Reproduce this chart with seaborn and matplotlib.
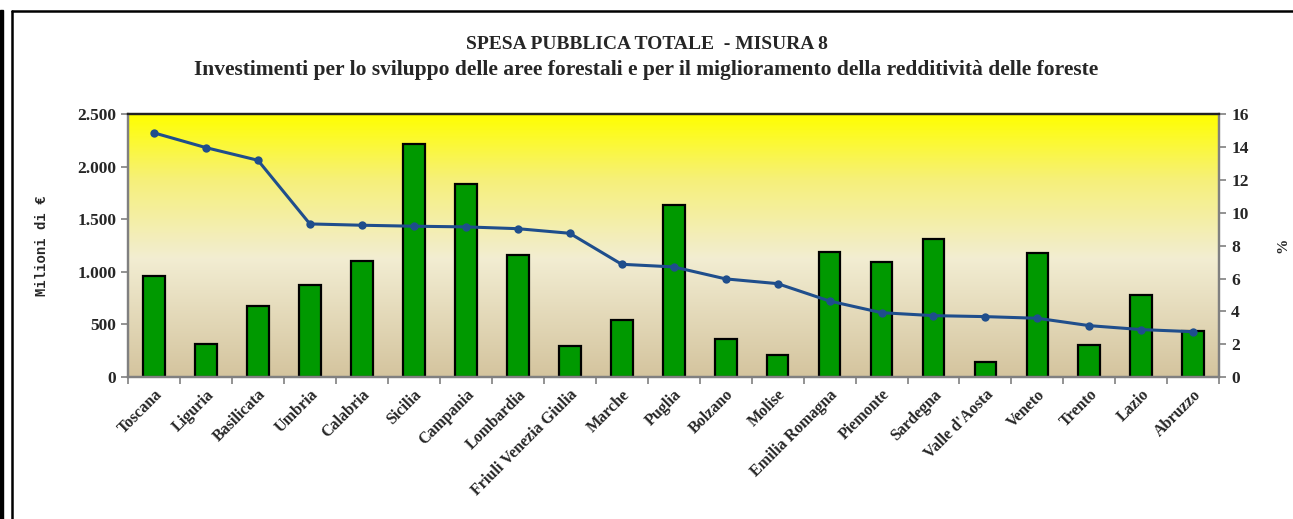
import numpy as np
import pandas as pd
import seaborn as sns
import matplotlib.pyplot as plt
from matplotlib.colors import LinearSegmentedColormap
from matplotlib.ticker import FuncFormatter, MultipleLocator

regioni = ["Toscana", "Liguria", "Basilicata", "Umbria", "Calabria", "Sicilia",
           "Campania", "Lombardia", "Friuli Venezia Giulia", "Marche", "Puglia",
           "Bolzano", "Molise", "Emilia Romagna", "Piemonte", "Sardegna",
           "Valle d'Aosta", "Veneto", "Trento", "Lazio", "Abruzzo"]
spesa = [965, 317, 679, 879, 1108, 2216, 1838, 1159, 298, 540, 1638,
         365, 212, 1190, 1095, 1311, 140, 1184, 302, 781, 435]
percentuale = [14.88, 13.98, 13.21, 9.33, 9.25, 9.19, 9.15, 9.04, 8.76, 6.87, 6.71,
               5.98, 5.69, 4.63, 3.92, 3.74, 3.68, 3.58, 3.13, 2.89, 2.76]

df = pd.DataFrame({"Regione": regioni, "Spesa": spesa, "Perc": percentuale})

sns.set_style("white")
plt.rcParams["font.family"] = ["Liberation Serif", "DejaVu Serif"]

fig = plt.figure(figsize=(12.93, 5.19), dpi=100)
ax = fig.add_axes([0.099, 0.2736, 0.844, 0.5058])

# gradient background yellow -> cream -> tan
cmap = LinearSegmentedColormap.from_list(
    "bg", [(0.0, "#d4c49e"), (0.45, "#f2edd2"), (0.75, "#f6f07a"), (1.0, "#ffff00")])
grad = np.linspace(0, 1, 256).reshape(-1, 1)
ax.imshow(grad, aspect="auto", cmap=cmap, origin="lower",
          extent=(-0.5, len(regioni) - 0.5, 0, 2500), zorder=0)

sns.barplot(data=df, x="Regione", y="Spesa", color="#009900", saturation=1,
            edgecolor="black", linewidth=1.6, width=0.42, ax=ax, zorder=2)
ax.set_xlim(-0.5, len(regioni) - 0.5)
ax.set_ylim(0, 2500)
ax.yaxis.set_major_locator(MultipleLocator(500))
ax.yaxis.set_major_formatter(FuncFormatter(lambda v, p: f"{int(v):,}".replace(",", ".")))
ax.set_xlabel("")
ax.set_ylabel("Milioni di €", family=["Liberation Mono", "DejaVu Sans Mono"],
              fontweight="bold", fontsize=10, labelpad=20)

ax2 = ax.twinx()
sns.lineplot(x=np.arange(len(regioni)), y=percentuale, ax=ax2, color="#1f4e8c",
             linewidth=2.2, marker="o", markersize=6, markeredgewidth=0, zorder=3)
ax2.set_ylim(0, 16)
ax2.yaxis.set_major_locator(MultipleLocator(2))
ax2.set_ylabel("")

# category boundary ticks
ax.set_xticks(np.arange(len(regioni)))
ax.set_xticklabels(regioni, rotation=45, ha="right", rotation_mode="anchor",
                   fontweight="bold", fontsize=11.5)
ax.set_xticks(np.arange(-0.5, len(regioni)), minor=True)
ax.tick_params(axis="x", which="major", length=0, pad=7)
ax.tick_params(axis="x", which="minor", length=5, width=1.2, color="#808080",
               direction="out", bottom=True)
ax.tick_params(axis="y", length=5, width=1.2, color="#808080", direction="out",
               left=True, labelsize=12.5)
ax2.tick_params(axis="y", length=5, width=1.2, color="#808080", direction="out",
                right=True, labelsize=12.5)
for t in ax.get_yticklabels() + ax2.get_yticklabels():
    t.set_fontweight("bold")

for a in (ax, ax2):
    for side in ["left", "right", "bottom"]:
        a.spines[side].set_color("#808080")
        a.spines[side].set_linewidth(1.6)
    a.spines["top"].set_color("#222222")
    a.spines["top"].set_linewidth(1.6)

fig.text(0.5, 0.915, "SPESA PUBBLICA TOTALE  - MISURA 8", ha="center", va="center",
         fontweight="bold", fontsize=14)
fig.text(0.5, 0.865, "Investimenti per lo sviluppo delle aree forestali e per il "
         "miglioramento della redditività delle foreste", ha="center", va="center",
         fontweight="bold", fontsize=15.5)
# right axis label
fig.text(1283 / 1293, 1 - 245 / 519, "%", rotation=90, ha="center", va="center",
         fontweight="bold", fontsize=11)

# outer chart frame
fig.add_artist(plt.Line2D([12 / 1293, 12 / 1293], [0, 1 - 11 / 519],
                          transform=fig.transFigure, color="black", lw=1.8))
fig.add_artist(plt.Line2D([12 / 1293, 1], [1 - 11 / 519, 1 - 11 / 519],
                          transform=fig.transFigure, color="black", lw=1.8))
fig.add_artist(plt.Rectangle((0, 0), 3 / 1293, 1 - 10 / 519,
                             transform=fig.transFigure, color="black"))

fig.savefig("out.png", dpi=100)
